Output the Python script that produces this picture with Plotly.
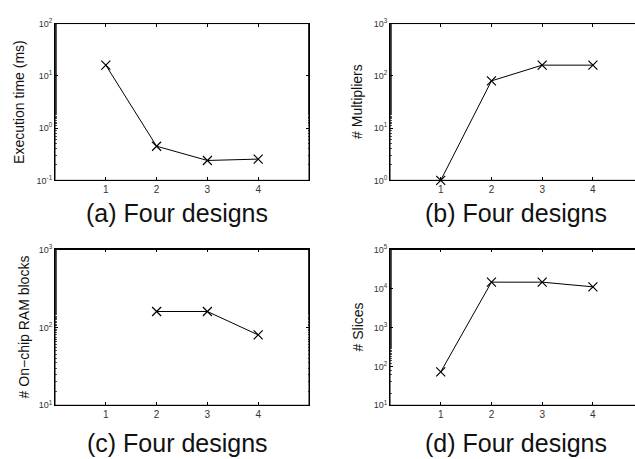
import plotly.graph_objects as go

designs = [1, 2, 3, 4]
exec_time = [16, 0.45, 0.24, 0.255]
multipliers = [1, 80, 160, 160]
ram_designs = [2, 3, 4]
ram_blocks = [160, 160, 80]
slices = [72, 14500, 14500, 11000]

panel_titles = ["(a) Four designs", "(b) Four designs", "(c) Four designs", "(d) Four designs"]
y_titles = ["Execution time (ms)", "# Multipliers", "# On\u2212chip RAM blocks", "# Slices"]
y_exps = [[-1, 0, 1, 2], [0, 1, 2, 3], [1, 2, 3], [1, 2, 3, 4, 5]]
x_ticks = [1, 2, 3, 4]

W, H = 635, 459
# pixel boxes: (left, right, top, bottom)
boxes = [(55, 309, 17, 178), (390, 635, 17, 178), (55, 309, 249, 409), (390, 635, 249, 409)]
xranges = [[0, 5], [0, 4.83], [0, 5], [0, 4.83]]
title_x = [177, 516, 177, 516]
title_y = [212, 212, 448, 448]
ytitle_x = [19, 357, 24, 358]

fig = go.Figure()
series = [(designs, exec_time), (designs, multipliers), (ram_designs, ram_blocks), (designs, slices)]
for i, (xs, ys) in enumerate(series):
    n = "" if i == 0 else str(i + 1)
    fig.add_trace(go.Scatter(
        x=xs, y=ys, mode="lines+markers", xaxis="x" + n, yaxis="y" + n,
        line=dict(color="black", width=1),
        marker=dict(symbol="x-thin", size=9, line=dict(color="black", width=1.2)),
        showlegend=False, cliponaxis=False))

layout = dict(width=W, height=H, margin=dict(l=0, r=0, t=0, b=0),
              paper_bgcolor="white", plot_bgcolor="white",
              font=dict(family="Liberation Sans, Arial, sans-serif", color="#222"))
annotations = []
shapes = []
for i in range(4):
    n = "" if i == 0 else str(i + 1)
    l, r, t, b = boxes[i]
    right_panel = i in (1, 3)
    exps = y_exps[i]
    layout["xaxis" + n] = dict(
        domain=[l / W, r / W], range=xranges[i], anchor="y" + n,
        tickvals=x_ticks, ticktext=[str(v) for v in x_ticks],
        ticks="inside", ticklen=3, tickcolor="black", tickwidth=1,
        showline=True, linecolor="black", linewidth=1, mirror="ticks",
        showgrid=False, zeroline=False, tickfont=dict(size=10, color="#333"))
    layout["yaxis" + n] = dict(
        domain=[1 - b / H, 1 - t / H], type="log", range=[exps[0], exps[-1]],
        anchor="x" + n,
        tickvals=[10 ** e for e in exps],
        ticktext=["10<sup>%d</sup>" % e for e in exps],
        ticks="inside", ticklen=3, tickcolor="black", tickwidth=1,
        minor=dict(ticks="inside", ticklen=1.5, tickcolor="#555", showgrid=False),
        showline=True, linecolor="black", linewidth=1,
        mirror=False if right_panel else "ticks",
        showgrid=False, zeroline=False, tickfont=dict(size=9, color="#333"))
    xr, yr = "x%s domain" % n, "y%s domain" % n
    # frame lines
    shapes.append(dict(type="line", xref=xr, yref=yr, x0=0, x1=1, y0=1, y1=1,
                       line=dict(color="black", width=1)))
    shapes.append(dict(type="line", xref=xr, yref=yr, x0=0, x1=1, y0=0, y1=0,
                       line=dict(color="black", width=1)))
    shapes.append(dict(type="line", xref=xr, yref=yr, x0=0, x1=0, y0=0, y1=1,
                       line=dict(color="black", width=1)))
    if not right_panel:
        shapes.append(dict(type="line", xref=xr, yref=yr, x0=1, x1=1, y0=0, y1=1,
                           line=dict(color="black", width=1)))
    annotations.append(dict(text=panel_titles[i], x=title_x[i] / W, y=1 - title_y[i] / H,
                            xref="paper", yref="paper", showarrow=False,
                            xanchor="center", yanchor="middle",
                            font=dict(size=25, color="#111")))
    annotations.append(dict(text=y_titles[i], x=ytitle_x[i] / W, y=1 - (t + b) / 2 / H,
                            xref="paper", yref="paper", showarrow=False, textangle=-90,
                            xanchor="center", yanchor="middle",
                            font=dict(size=14, color="#111")))
layout["annotations"] = annotations
layout["shapes"] = shapes
fig.update_layout(**layout)
fig.write_html("out.html")
